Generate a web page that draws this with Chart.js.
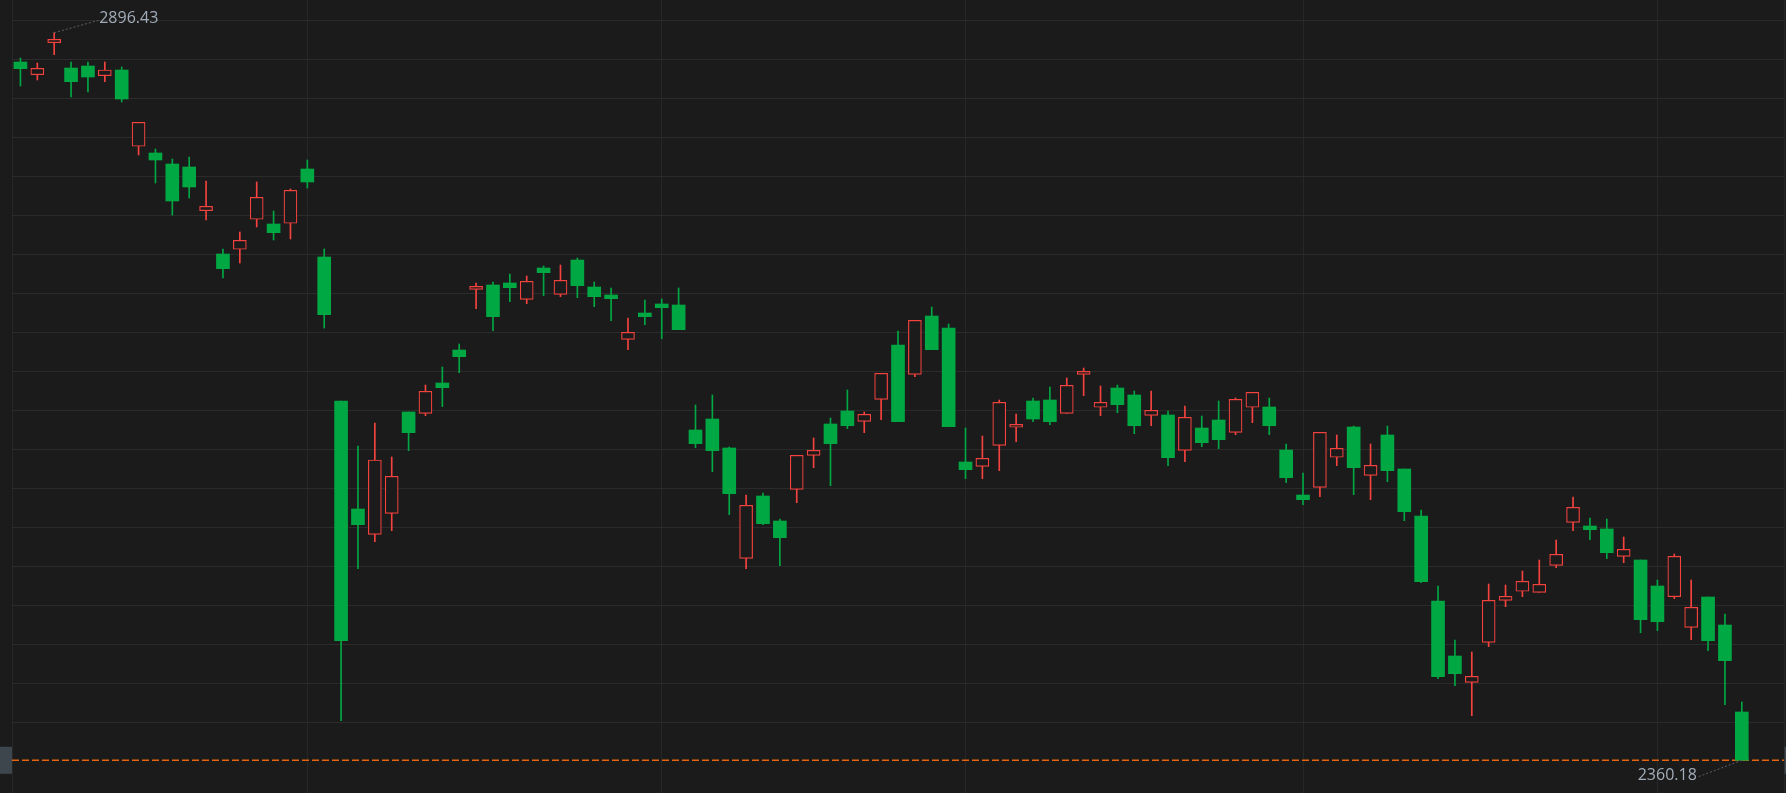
<!DOCTYPE html>
<html lang="zh-CN">
<head>
<meta charset="UTF-8">
<title>K线图</title>
<script src="https://cdn.jsdelivr.net/npm/chart.js"></script>
<style>
  html, body { margin: 0; padding: 0; background: #1b1b1b; }
  #wrap { width: 1786px; height: 793px; position: relative; }
</style>
</head>
<body>
<div id="wrap"><canvas id="kline"></canvas></div>
<script>
// 日K数据（开、高、低、收）
const openPrices = [
  2874.84, 2865.48, 2889.06, 2870.41, 2871.89, 2864.74, 2868.94, 2812.71, 2807.77, 2799.66,
  2797.45, 2765.24, 2733.33, 2736.80, 2758.91, 2755.44, 2755.96, 2795.98, 2731.12, 2624.99,
  2545.39, 2526.74, 2542.22, 2616.88, 2615.92, 2638.26, 2662.58, 2707.31, 2710.48, 2711.96,
  2699.94, 2723.01, 2703.63, 2728.91, 2709.01, 2703.11, 2670.46, 2689.85, 2696.48, 2695.74,
  2603.62, 2611.72, 2590.35, 2509.06, 2554.97, 2536.55, 2559.91, 2584.97, 2608.04, 2617.62,
  2610.03, 2626.24, 2666.26, 2644.67, 2687.63, 2678.79, 2580.03, 2576.86, 2592.34, 2605.61,
  2624.99, 2625.73, 2615.92, 2644.67, 2620.35, 2634.57, 2629.41, 2614.45, 2614.67, 2588.65,
  2605.09, 2610.99, 2601.92, 2620.35, 2620.57, 2588.88, 2555.71, 2561.38, 2583.50, 2605.83,
  2570.23, 2599.93, 2574.87, 2540.23, 2477.59, 2437.05, 2417.67, 2447.15, 2478.10, 2484.74,
  2484.00, 2503.90, 2535.59, 2532.86, 2530.65, 2510.53, 2507.80, 2488.64, 2480.76, 2458.20,
  2480.53, 2459.90, 2395.78
];
const highPrices = [
  2877.78, 2874.10, 2896.43, 2874.84, 2874.84, 2874.84, 2871.15, 2830.39, 2810.72, 2803.35,
  2804.82, 2787.13, 2737.02, 2749.55, 2786.40, 2765.02, 2781.24, 2802.61, 2737.02, 2624.99,
  2591.82, 2608.77, 2583.72, 2616.88, 2636.78, 2650.05, 2667.00, 2711.96, 2712.69, 2718.59,
  2717.12, 2724.49, 2725.22, 2730.38, 2712.69, 2708.27, 2686.16, 2699.43, 2700.16, 2708.27,
  2622.04, 2629.41, 2591.09, 2555.71, 2557.18, 2538.02, 2584.97, 2597.72, 2612.46, 2633.10,
  2616.88, 2645.40, 2676.58, 2684.47, 2694.27, 2681.74, 2605.09, 2599.19, 2625.73, 2615.41,
  2627.20, 2635.31, 2641.94, 2649.31, 2636.04, 2636.78, 2632.36, 2632.36, 2617.62, 2621.30,
  2613.93, 2624.99, 2627.20, 2631.40, 2627.20, 2593.30, 2571.92, 2601.92, 2599.93, 2606.56,
  2593.30, 2606.56, 2574.87, 2544.65, 2488.64, 2448.84, 2440.00, 2490.12, 2489.38, 2499.70,
  2507.80, 2522.54, 2554.24, 2538.76, 2538.02, 2524.76, 2507.80, 2493.06, 2512.23, 2493.06,
  2480.53, 2468.01, 2403.15
];
const lowPrices = [
  2857.15, 2861.57, 2880.22, 2849.04, 2852.73, 2860.32, 2845.36, 2806.29, 2785.66, 2762.07,
  2774.60, 2758.39, 2715.64, 2726.70, 2753.23, 2743.65, 2744.39, 2781.97, 2678.79, 2389.37,
  2501.39, 2521.29, 2529.40, 2588.36, 2614.15, 2620.79, 2645.85, 2693.02, 2676.80, 2698.17,
  2696.70, 2702.60, 2701.86, 2701.12, 2694.49, 2684.17, 2662.80, 2681.22, 2670.90, 2677.54,
  2590.57, 2572.88, 2541.19, 2501.39, 2533.82, 2503.60, 2550.03, 2575.83, 2562.56, 2604.57,
  2601.63, 2611.21, 2609.73, 2642.90, 2662.80, 2606.05, 2567.72, 2567.72, 2573.62, 2594.99,
  2609.73, 2607.52, 2615.92, 2628.90, 2614.15, 2616.37, 2600.89, 2606.78, 2577.30, 2580.25,
  2591.31, 2589.83, 2600.15, 2609.00, 2600.15, 2564.77, 2548.56, 2554.46, 2577.30, 2555.93,
  2552.25, 2565.51, 2536.77, 2491.07, 2420.32, 2415.16, 2393.05, 2443.91, 2473.39, 2480.76,
  2484.00, 2502.13, 2529.40, 2522.76, 2508.76, 2505.81, 2454.22, 2455.70, 2479.28, 2449.06,
  2440.96, 2401.16, 2360.18
];
const closePrices = [
  2869.90, 2870.19, 2891.57, 2860.32, 2863.78, 2868.94, 2847.57, 2830.39, 2802.61, 2772.39,
  2782.71, 2768.49, 2722.50, 2743.43, 2775.12, 2749.03, 2780.28, 2786.40, 2688.60, 2448.32,
  2533.82, 2581.51, 2569.49, 2601.63, 2632.14, 2634.79, 2657.64, 2709.52, 2687.12, 2708.49,
  2713.21, 2719.55, 2713.95, 2709.97, 2701.86, 2700.39, 2675.62, 2687.12, 2693.75, 2677.54,
  2593.52, 2588.36, 2556.67, 2548.12, 2534.56, 2524.24, 2584.97, 2588.65, 2593.52, 2606.78,
  2615.19, 2645.40, 2609.73, 2684.47, 2662.80, 2606.05, 2574.36, 2582.76, 2624.03, 2607.82,
  2611.72, 2609.73, 2636.56, 2646.88, 2624.03, 2622.26, 2606.78, 2618.13, 2583.20, 2612.98,
  2594.26, 2596.47, 2626.24, 2631.40, 2606.78, 2568.46, 2552.25, 2601.92, 2590.13, 2575.83,
  2577.60, 2573.62, 2543.40, 2491.81, 2421.79, 2424.01, 2422.09, 2478.10, 2481.05, 2492.11,
  2489.89, 2512.01, 2546.65, 2530.14, 2513.18, 2515.69, 2463.81, 2462.33, 2510.53, 2472.94,
  2448.32, 2433.59, 2360.18
];
// 月份分界（K线序号）
const monthStarts = [17, 38, 56, 76, 97];
// 水平网格线价位
const gridPrices = [
  2905.27, 2876.54, 2847.81, 2819.08, 2790.35, 2761.62, 2732.89, 2704.16, 2675.43, 2646.70,
  2617.97, 2589.24, 2560.51, 2531.78, 2503.05, 2474.32, 2445.59, 2416.86, 2388.13
];

const UP = '#f4433f', DOWN = '#00a843', BG = '#1b1b1b';
const n = closePrices.length;
const idx = closePrices.map((_, i) => i);
const isUp = idx.map(i => closePrices[i] >= openPrices[i]);
const lastClose = closePrices[n - 1];

// 最高/最低价标注 + 两侧价格标签
const extremaLabels = {
  id: 'extremaLabels',
  afterDatasetsDraw(chart) {
    const { ctx, scales: { x, y } } = chart;
    const hi = highPrices.indexOf(Math.max(...highPrices));
    const lo = lowPrices.indexOf(Math.min(...lowPrices));
    ctx.save();
    ctx.font = '16px "Open Sans"';
    ctx.textBaseline = 'middle';
    ctx.lineWidth = 1;
    ctx.setLineDash([2, 2]);

    let px = x.getPixelForValue(hi), py = y.getPixelForValue(highPrices[hi]);
    ctx.strokeStyle = '#606060';
    ctx.beginPath(); ctx.moveTo(px, py); ctx.lineTo(px + 45, py - 12.5); ctx.stroke();
    ctx.fillStyle = '#a2adb9';
    ctx.textAlign = 'left';
    ctx.fillText(highPrices[hi].toFixed(2), px + 45, py - 14);

    px = x.getPixelForValue(lo); py = y.getPixelForValue(lowPrices[lo]);
    ctx.beginPath(); ctx.moveTo(px, py); ctx.lineTo(px - 45, py + 17); ctx.stroke();
    ctx.textAlign = 'right';
    ctx.fillText(lowPrices[lo].toFixed(2), px - 45, py + 15.5);
    ctx.restore();
  },
  afterDraw(chart) {
    const { ctx, chartArea, scales: { y } } = chart;
    const ly = y.getPixelForValue(lastClose);
    ctx.save();
    ctx.fillStyle = '#3d454d';
    ctx.fillRect(0, ly - 13.5, chartArea.left, 27);
    ctx.fillRect(chartArea.right + 0.5, ly - 13.5, chart.width - chartArea.right, 27);
    ctx.restore();
  }
};

new Chart(document.getElementById('kline'), {
  type: 'bar',
  data: {
    datasets: [
      {
        // 实体
        data: idx.map(i => ({ x: i, y: [openPrices[i], closePrices[i]] })),
        backgroundColor: idx.map(i => isUp[i] ? BG : DOWN),
        borderColor: idx.map(i => isUp[i] ? UP : DOWN),
        borderWidth: idx.map(i => isUp[i] ? 1.2 : 0),
        borderSkipped: false,
        barThickness: 13,
        grouped: false,
        order: 0
      },
      {
        // 影线
        data: idx.map(i => ({ x: i, y: [lowPrices[i], highPrices[i]] })),
        backgroundColor: idx.map(i => isUp[i] ? UP : DOWN),
        borderWidth: 0,
        barThickness: 1,
        grouped: false,
        order: 1
      },
      {
        // 最新价虚线
        type: 'line',
        data: [{ x: -0.5, y: lastClose }, { x: n + 1.5, y: lastClose }],
        borderColor: '#e5620f',
        borderWidth: 1.5,
        borderDash: [7, 3],
        pointRadius: 0,
        order: 2
      }
    ]
  },
  options: {
    responsive: true,
    maintainAspectRatio: false,
    animation: false,
    layout: { padding: { left: 12, right: 2, top: 0, bottom: 0 } },
    plugins: { legend: { display: false }, tooltip: { enabled: false } },
    scales: {
      x: {
        type: 'linear',
        min: -0.5,
        max: n + 1.5,
        offset: false,
        ticks: { display: false },
        border: { display: false },
        grid: { offset: false, drawTicks: false, color: '#272727', lineWidth: 1 },
        afterBuildTicks: axis => {
          axis.ticks = [-0.5, ...monthStarts, n + 1.5].map(v => ({ value: v }));
        }
      },
      y: {
        min: 2336.08,
        max: 2920.53,
        ticks: { display: false },
        border: { display: false },
        grid: { drawTicks: false, color: '#2b2b2b', lineWidth: 1 },
        afterBuildTicks: axis => {
          axis.ticks = gridPrices.map(v => ({ value: v }));
        }
      }
    }
  },
  plugins: [extremaLabels]
});
</script>
</body>
</html>
